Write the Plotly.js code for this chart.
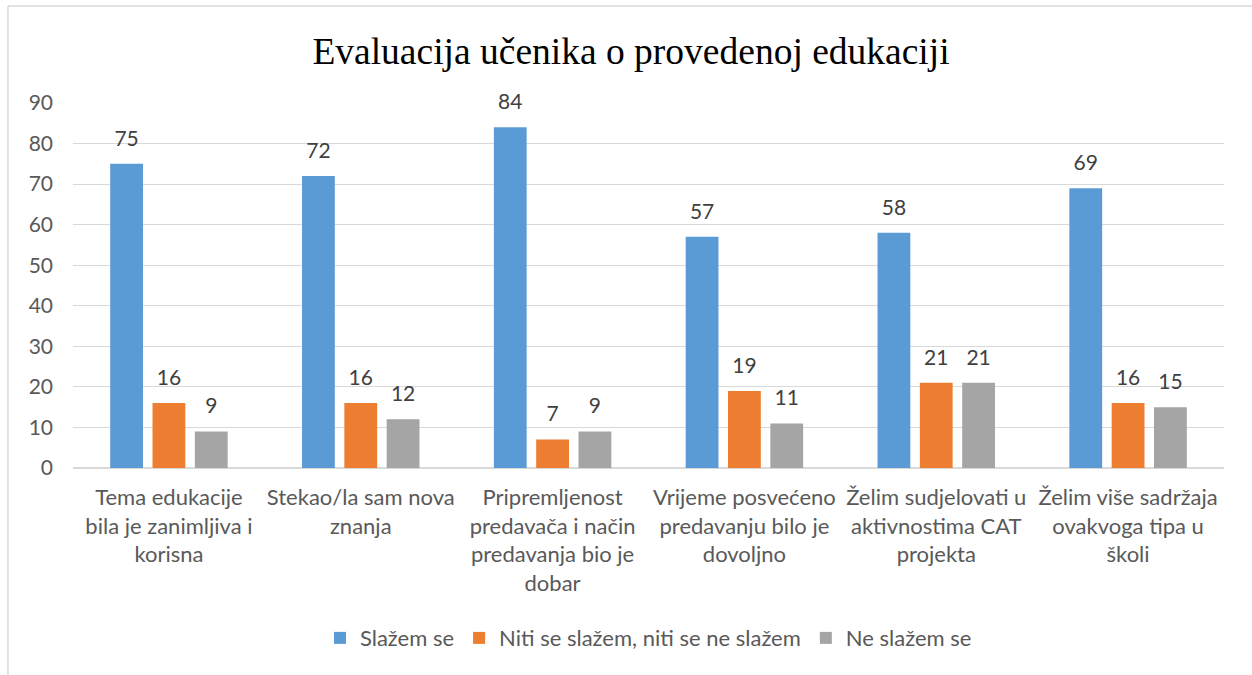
<!DOCTYPE html>
<html>
<head>
<meta charset="utf-8">
<script src="https://cdn.plot.ly/plotly-3.0.1.min.js"></script>
<style>
  html, body { margin: 0; padding: 0; background: #ffffff; }
  #chart { width: 1252px; height: 675px; }
</style>
</head>
<body>
<div id="chart"></div>
<script>
const categories = [
  "Tema edukacije<br>bila je zanimljiva i<br>korisna",
  "Stekao/la sam nova<br>znanja",
  "Pripremljenost<br>predavača i način<br>predavanja bio je<br>dobar",
  "Vrijeme posvećeno<br>predavanju bilo je<br>dovoljno",
  "Želim sudjelovati u<br>aktivnostima CAT<br>projekta",
  "Želim više sadržaja<br>ovakvoga tipa u<br>školi"
];
const seriesNames = ["Slažem se", "Niti se slažem, niti se ne slažem", "Ne slažem se"];
const slazemSe = [75, 72, 84, 57, 58, 69];
const niti = [16, 16, 7, 19, 21, 16];
const neSlazemSe = [9, 12, 9, 11, 21, 15];
const seriesValues = [slazemSe, niti, neSlazemSe];
const colors = ["#5B9BD5", "#ED7D31", "#A5A5A5"];
const yTicks = [0, 10, 20, 30, 40, 50, 60, 70, 80, 90];

const FONT = "Lato, 'Open Sans', sans-serif";
const GAP = 0.338;

const traces = [];
seriesValues.forEach((vals, i) => {
  traces.push({
    type: "bar",
    name: seriesNames[i],
    x: categories,
    y: vals,
    marker: { color: colors[i] },
    offsetgroup: String(i),
    hoverinfo: "skip"
  });
});
seriesValues.forEach((vals, i) => {
  traces.push({
    type: "scatter",
    mode: "markers+text",
    x: categories,
    y: vals,
    text: vals.map(String),
    textposition: "top center",
    textfont: { family: FONT, size: 21, color: "#404040" },
    marker: { size: 19, opacity: 0, color: colors[i] },
    offsetgroup: String(i),
    showlegend: false,
    hoverinfo: "skip",
    cliponaxis: false
  });
});

const layout = {
  width: 1252,
  height: 675,
  paper_bgcolor: "#ffffff",
  plot_bgcolor: "#ffffff",
  margin: { l: 73, r: 28, t: 103, b: 207, autoexpand: false },
  barmode: "group",
  bargap: GAP,
  bargroupgap: 0.225,
  scattermode: "group",
  scattergap: GAP,
  title: {
    text: "Evaluacija učenika o provedenoj edukaciji",
    font: { family: "'Liberation Serif', 'Times New Roman', serif", size: 37.5, color: "#000000" },
    x: 0.504, xanchor: "center", xref: "container",
    y: 0.925, yanchor: "middle", yref: "container"
  },
  xaxis: {
    type: "category",
    showgrid: false,
    showline: false,
    zeroline: false,
    ticks: "",
    ticklabelstandoff: 14,
    tickfont: { family: FONT, size: 22, color: "#595959" },
    automargin: false,
    fixedrange: true
  },
  yaxis: {
    range: [0, 90],
    tickvals: yTicks,
    ticktext: yTicks.map(String),
    showgrid: true,
    gridcolor: "#d9d9d9",
    gridwidth: 1,
    zeroline: true,
    zerolinecolor: "#d9d9d9",
    zerolinewidth: 1.5,
    showline: false,
    ticks: "",
    ticklabelstandoff: 19,
    tickfont: { family: FONT, size: 21, color: "#595959" },
    automargin: false,
    fixedrange: true
  },
  showlegend: true,
  legend: {
    orientation: "h",
    x: 0.5, xanchor: "center",
    y: -0.466, yanchor: "middle",
    font: { family: FONT, size: 22, color: "#595959" },
    itemwidth: 30,
    traceorder: "normal",
    bgcolor: "rgba(0,0,0,0)"
  },
  shapes: [
    { type: "line", xref: "paper", yref: "paper", x0: -0.0565, x1: -0.0565, y0: 1.266, y1: -0.6, line: { color: "#d9d9d9", width: 1.5 } },
    { type: "line", xref: "paper", yref: "paper", x0: -0.0565, x1: 1.03, y0: 1.266, y1: 1.266, line: { color: "#d9d9d9", width: 1.5 } }
  ]
};

Plotly.newPlot("chart", traces, layout, { displayModeBar: false, staticPlot: true });
</script>
</body>
</html>
